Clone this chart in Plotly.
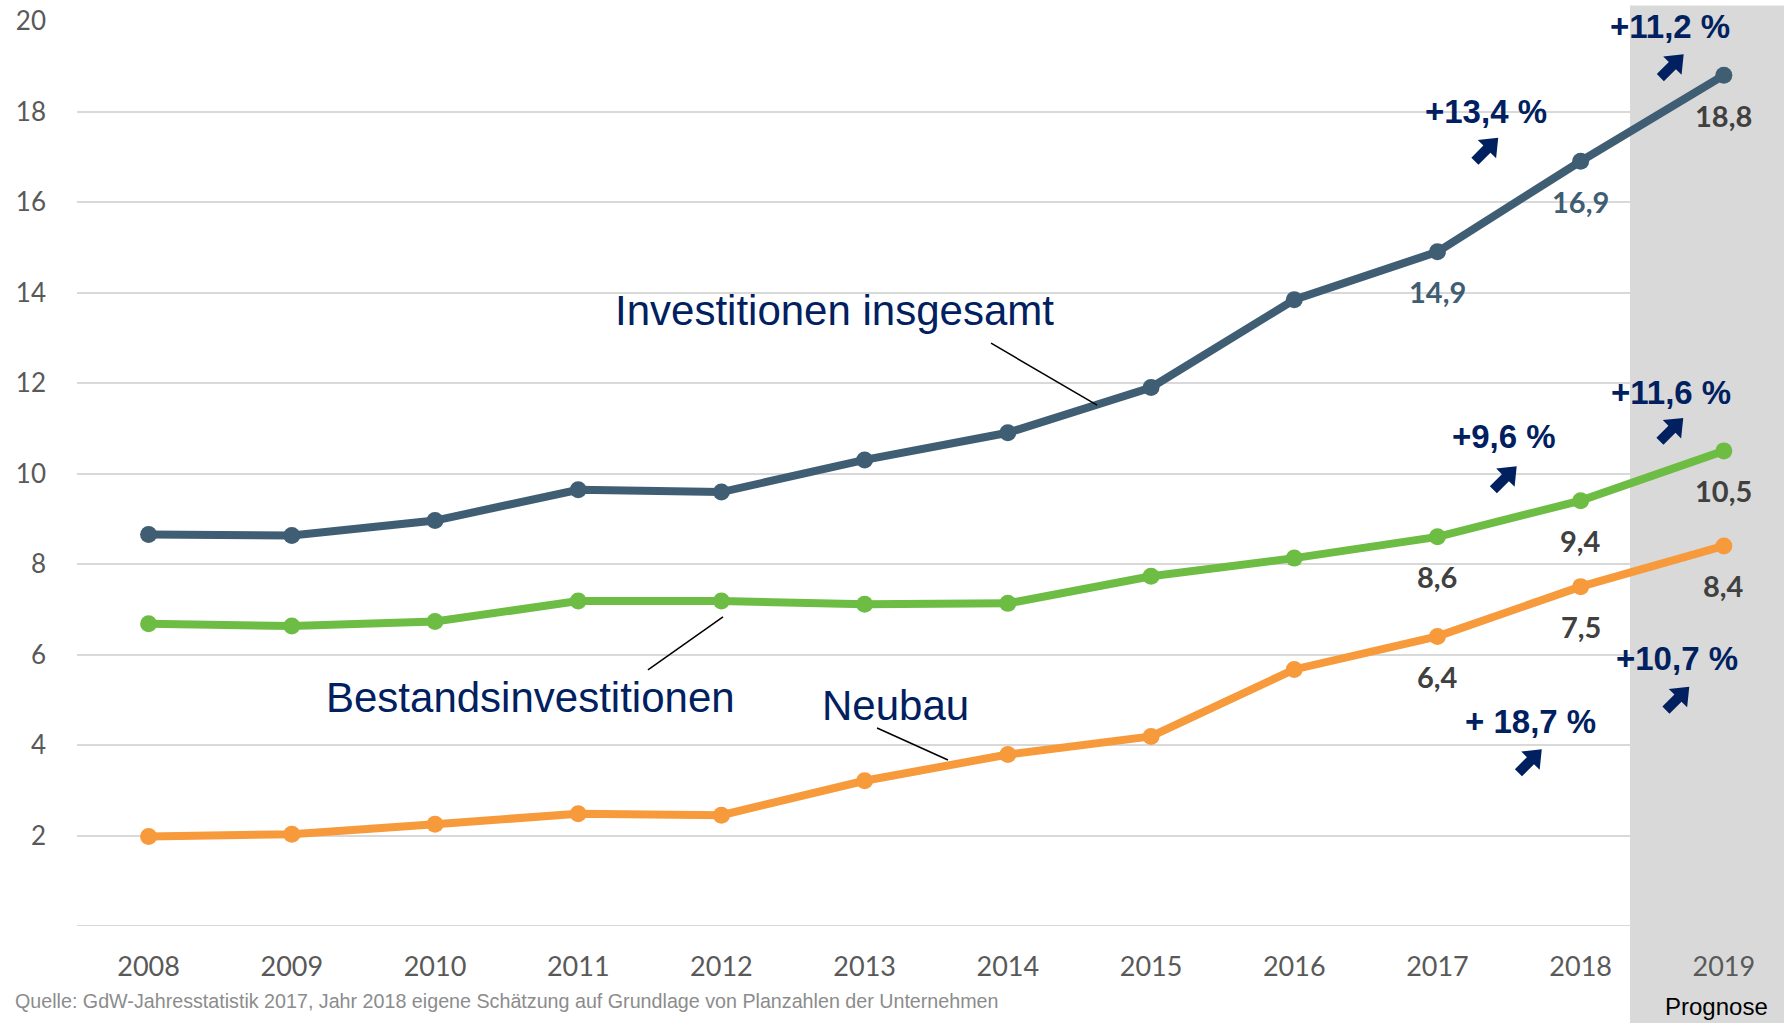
import math
import plotly.graph_objects as go

years = [2008, 2009, 2010, 2011, 2012, 2013, 2014, 2015, 2016, 2017, 2018, 2019]
total = [8.65, 8.63, 8.96, 9.64, 9.59, 10.3, 10.9, 11.9, 13.84, 14.9, 16.9, 18.8]
bestand = [6.68, 6.63, 6.73, 7.18, 7.18, 7.11, 7.13, 7.73, 8.13, 8.6, 9.4, 10.5]
neubau = [1.98, 2.03, 2.25, 2.48, 2.45, 3.21, 3.79, 4.19, 5.67, 6.4, 7.5, 8.4]

labeled_years = [2017, 2018, 2019]
growth_total = ["+13,4 %", "+11,2 %"]
growth_bestand = ["+9,6 %", "+11,6 %"]
growth_neubau = ["+ 18,7 %", "+10,7 %"]

y_ticks = [0, 2, 4, 6, 8, 10, 12, 14, 16, 18, 20]
y_ticktext = ["" if v == 0 else str(v) for v in y_ticks]

source = "Quelle: GdW-Jahresstatistik 2017, Jahr 2018 eigene Schätzung auf Grundlage von Planzahlen der Unternehmen"

C_TOTAL = "#3f5d73"
C_BEST = "#6dbd45"
C_NEU = "#f79a3b"
NAVY = "#002060"
GRAY = "#595959"

fig = go.Figure()

# Prognose shading
fig.add_shape(type="rect", xref="x", yref="paper", x0=2018.345, x1=2019.6,
              y0=-0.12, y1=1.017, fillcolor="#d9d9d9", line_width=0, layer="below")
fig.add_shape(type="line", xref="x", yref="y", x0=2007.5, x1=2018.345, y0=0, y1=0,
              line=dict(color="#d9d9d9", width=2), layer="between")
fig.add_shape(type="rect", xref="x", yref="y", x0=2018.345, x1=2019.6,
              y0=-1, y1=21, fillcolor="#d9d9d9", line_width=0, layer="between")

for ys, col in [(total, C_TOTAL), (bestand, C_BEST), (neubau, C_NEU)]:
    fig.add_trace(go.Scatter(x=years, y=ys, mode="lines+markers",
                             line=dict(color=col, width=8),
                             marker=dict(color=col, size=17),
                             hoverinfo="skip", showlegend=False))


def fmt(v):
    return f"{v:.1f}".replace(".", ",")


# data labels
for ys in [total, bestand, neubau]:
    for yr in labeled_years:
        i = years.index(yr)
        c = C_TOTAL if (ys is total and yr < 2019) else "#404040"
        fig.add_annotation(x=yr, y=ys[i], text=fmt(ys[i]), showarrow=False,
                           yshift=-40, font=dict(family="Lato", size=29, color=c,
                                                 weight="bold"))

# arrow polygon (pixel units, pointing north-east)
local = [(-17, -5), (0, -5), (0, -13), (16, 0), (0, 13), (0, 5), (-17, 5)]
pts = []
for u, v in local:
    u = u + 0.5
    pts.append(((u - v) / math.sqrt(2), (u + v) / math.sqrt(2)))
arrow_path = "M " + " L ".join(f"{x:.2f},{y:.2f}" for x, y in pts) + " Z"

# growth labels: (x, y, text), arrow centre (x, y)
growth = [
    (2017.339, 17.99, growth_total[0], 2017.343, 17.16),
    (2018.624, 19.87, growth_total[1], 2018.638, 19.006),
    (2017.465, 10.81, growth_bestand[0], 2017.472, 9.90),
    (2018.631, 11.80, growth_bestand[1], 2018.635, 10.97),
    (2017.647, 4.51, growth_neubau[0], 2017.647, 3.646),
    (2018.673, 5.92, growth_neubau[1], 2018.677, 5.028),
]
for tx, ty, t, ax_, ay_ in growth:
    fig.add_annotation(x=tx, y=ty, text=t, showarrow=False,
                       font=dict(family="Liberation Sans", size=33, color=NAVY, weight="bold"))
    fig.add_shape(type="path", xref="x", yref="y", xsizemode="pixel", ysizemode="pixel",
                  xanchor=ax_, yanchor=ay_, path=arrow_path, fillcolor=NAVY,
                  line_width=0, layer="above")

# series labels
for tx, ty, t in [(2012.793, 13.61, "Investitionen insgesamt"),
                  (2010.670, 5.04, "Bestandsinvestitionen"),
                  (2013.216, 4.88, "Neubau")]:
    fig.add_annotation(x=tx, y=ty, text=t, showarrow=False,
                       font=dict(family="Liberation Sans", size=42, color=NAVY))

for x0, y0, x1, y1 in [(2013.883, 12.88, 2014.623, 11.51),
                       (2011.487, 5.66, 2012.011, 6.83),
                       (2013.087, 4.376, 2013.582, 3.668)]:
    fig.add_shape(type="line", xref="x", yref="y", x0=x0, y0=y0, x1=x1, y1=y1,
                  line=dict(color="black", width=1.5), layer="above")

fig.add_annotation(x=2007.49, y=19.47, text="Milliarden EUR", showarrow=False,
                   xanchor="left", font=dict(family="Liberation Sans", size=26, color="black"))
fig.add_annotation(x=2018.946, yref="paper", y=-0.0884, yanchor="middle", text="Prognose",
                   showarrow=False,
                   font=dict(family="Liberation Sans", size=24, color="black"))
fig.add_annotation(xref="paper", x=-0.0375, yref="paper", y=-0.083, xanchor="left",
                   yanchor="middle", text=source, showarrow=False,
                   font=dict(family="Liberation Sans", size=19.7, color="#8c8c8c"))

fig.update_layout(
    width=1784, height=1023,
    margin=dict(l=77, r=0, t=21, b=97),
    paper_bgcolor="white", plot_bgcolor="rgba(0,0,0,0)",
    xaxis=dict(range=[2007.5, 2019.42], tickvals=years, showgrid=False, zeroline=False,
               showline=False, ticks="", ticklabelstandoff=22,
               tickfont=dict(family="Lato", size=27, color=GRAY)),
    yaxis=dict(range=[0, 20], tickvals=y_ticks, ticktext=y_ticktext, showgrid=True,
               gridcolor="#d9d9d9", gridwidth=2, zeroline=False, showline=False,
               ticks="", ticklabelstandoff=30,
               tickfont=dict(family="Lato", size=26, color=GRAY)),
)

fig.write_html("out.html", config={"displayModeBar": False},
               post_script="document.body.style.margin='0';document.body.style.overflow='hidden';")
